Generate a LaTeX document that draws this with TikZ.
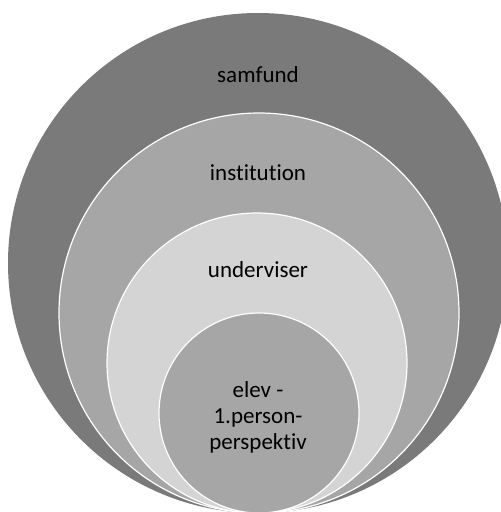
\documentclass[tikz,border=0pt]{standalone}
\usepackage{fontspec}
\setmainfont[Ligatures={NoCommon}]{Carlito}
\usetikzlibrary{positioning}
\definecolor{ringdark}{HTML}{7A7A7A}
\definecolor{ringmid}{HTML}{A6A6A6}
\definecolor{ringlight}{HTML}{D4D4D4}
\begin{document}
\begin{tikzpicture}[x=1pt, y=-1pt,
    ring/.style={draw=white, line width=1.2pt},
    lbl/.style={font=\fontsize{23}{26}\selectfont, align=center, text=black}]
    \useasboundingbox (0, 0) rectangle (501, 512);
    \clip (0, 0) rectangle (501, 512);

    \fill [ringdark] (258, 263) circle (250);
    \draw [ring, fill=ringmid] (259, 313) circle (200);
    \draw [ring, fill=ringlight] (257, 363) circle (150);
    \draw [ring, fill=ringmid] (259, 413) circle (100);

    \node [lbl] (samfund) at (258, 75) {samfund};
    \node [lbl] (institution) at (258, 173) {institution};
    \node [lbl] (underviser) at (258, 270) {underviser};
    \node [lbl] (elev) at (258, 417) {elev -\\1.person-\\perspektiv};
\end{tikzpicture}
\end{document}
